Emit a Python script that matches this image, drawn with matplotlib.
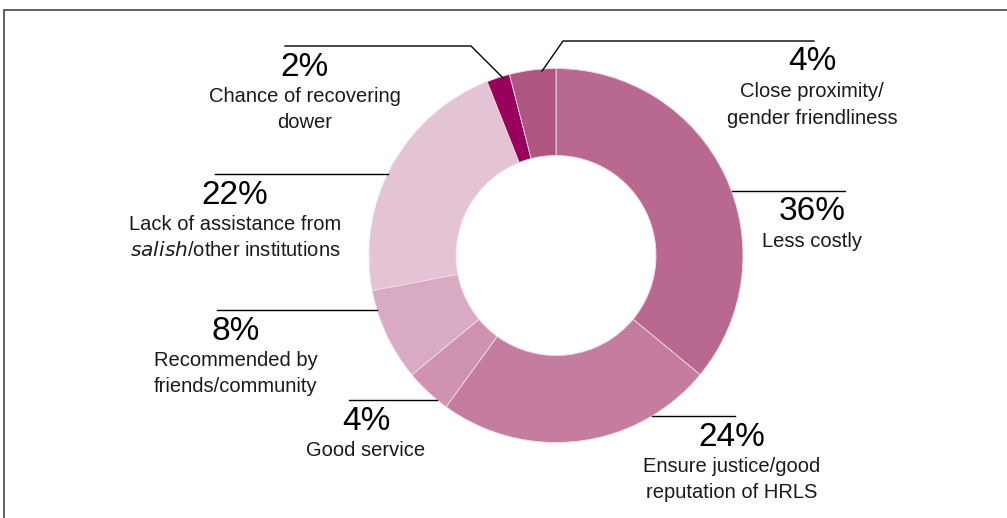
import numpy as np
import matplotlib.pyplot as plt
from matplotlib.patches import Rectangle

plt.rcParams['font.family'] = ['Liberation Sans', 'DejaVu Sans']

# Shares of respondents, clockwise from 12 o'clock
reasons = [
    "Less costly",
    "Ensure justice/good\nreputation of HRLS",
    "Good service",
    "Recommended by\nfriends/community",
    "Lack of assistance from\n$\\it{salish}$/other institutions",
    "Chance of recovering\ndower",
    "Close proximity/\ngender friendliness",
]
shares = [36, 24, 4, 8, 22, 2, 4]
colors = ["#b9698f", "#c47c9f", "#cf93b0", "#d9aac3", "#e3c3d4", "#99005e", "#af5582"]

# label layout in pixel space (y measured from top): text centre x, leader line y,
# far end of the leader line, and elbow x for the lines that bend
text_x = [812, 732, 366, 236, 235, 305, 812]
line_y = [191, 416, 400, 310, 174, 46, 41]
line_far = [845, 735, 349, 217, 215, 285, 814]
elbow_x = [None, None, None, None, None, 471, 563]

W, H = 1007, 518
fig = plt.figure(figsize=(W / 100, H / 100), dpi=100)
ax = fig.add_axes([0, 0, 1, 1])

cx, cy, r_out = 556, H - 255.5, 187
wedges, _ = ax.pie(shares, colors=colors, startangle=90, counterclock=False,
                   center=(cx, cy), radius=r_out,
                   wedgeprops=dict(width=87, edgecolor="#f0dde7", linewidth=0.6))

ax.set_xlim(0, W)
ax.set_ylim(0, H)
ax.set_aspect("equal")
ax.axis("off")

# outer frame
ax.add_patch(Rectangle((4, -20), W + 20, H - 10 + 20, fill=False,
                       edgecolor="#444444", linewidth=1.2))

cum = np.cumsum([0] + shares)
for i, (lab, val) in enumerate(zip(reasons, shares)):
    ly = H - line_y[i]
    if elbow_x[i] is None:
        # horizontal leader ending on the outer rim of the ring
        dy = ly - cy
        dx = np.sqrt(r_out ** 2 - dy ** 2)
        x0 = cx + dx if line_far[i] > cx else cx - dx
        ax.plot([x0, line_far[i]], [ly, ly], color="black", lw=1.0)
    else:
        # bent leader going into a thin slice
        mid = (cum[i] + 0.7 * shares[i]) / 100 * 2 * np.pi
        px = cx + (r_out - 2) * np.sin(mid)
        py = cy + (r_out - 2) * np.cos(mid)
        ax.plot([px, elbow_x[i], line_far[i]], [py, ly, ly], color="black", lw=1.0)

    tx = text_x[i]
    ax.text(tx, ly - 21, f"{val}%", ha="center", va="center", fontsize=24,
            color="black")
    ax.text(tx, ly - 41, lab, ha="center", va="top", fontsize=14.5,
            color="#1a1a1a", linespacing=1.5)

fig.savefig("out.png", dpi=100)
